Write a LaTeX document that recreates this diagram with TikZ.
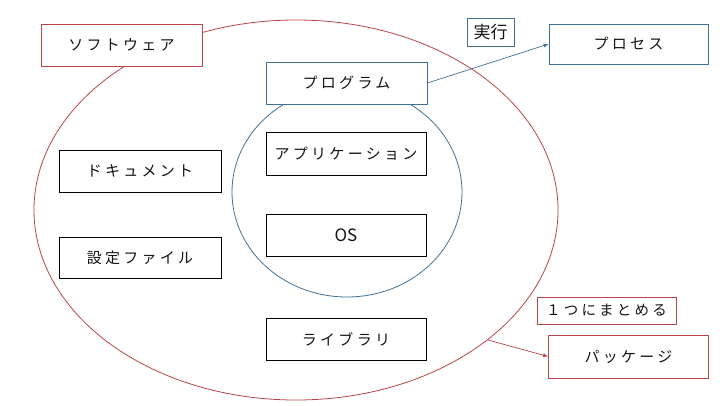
\documentclass[tikz,border=0pt]{standalone}
\usepackage{fontspec}
\usetikzlibrary{arrows.meta}
\newfontfamily\jp[LetterSpace=22]{Noto Sans CJK JP}
\newfontfamily\jpn{Noto Sans CJK JP}
\definecolor{cred}{RGB}{185,70,70}
\definecolor{cblue}{RGB}{65,113,150}
\definecolor{ctext}{RGB}{20,20,20}
\begin{document}
\begin{tikzpicture}[x=1pt,y=-1pt,
  box/.style={draw,fill=white,line width=0.8pt,inner sep=0pt,text=ctext,font=\jp\fontsize{15}{18}\selectfont},
  redbox/.style={box,draw=cred},
  bluebox/.style={box,draw=cblue},
  blackbox/.style={box,draw=black},
  conn/.style={line width=0.7pt,-{Latex[length=5pt,width=4pt]}}]
\useasboundingbox (0,0) rectangle (720,405);
\fill[white] (0,0) rectangle (720,405);
% outer ellipse and inner circle
\draw[cred,line width=0.8pt] (296,210) ellipse [x radius=262,y radius=190];
\draw[cblue,line width=0.8pt] (347,192) ellipse [x radius=115,y radius=105];
% nodes
\node[redbox,minimum width=161pt,minimum height=42pt] (soft) at (121.5,45) {ソフトウェア};
\node[bluebox,minimum width=47pt,minimum height=28pt,font=\jpn\fontsize{17}{20}\selectfont] (jikko) at (490.5,32) {実行};
\node[bluebox,minimum width=159pt,minimum height=40pt] (proc) at (628.5,44) {プロセス};
\node[bluebox,minimum width=161pt,minimum height=42pt] (prog) at (346.5,83) {プログラム};
\node[blackbox,minimum width=160pt,minimum height=43pt] (app) at (346,153.5) {アプリケーション};
\node[blackbox,minimum width=160pt,minimum height=42pt,font=\jpn\fontsize{17}{20}\selectfont] (os) at (346,235) {OS};
\node[blackbox,minimum width=160pt,minimum height=42pt] (lib) at (346,339) {ライブラリ};
\node[blackbox,minimum width=162pt,minimum height=42pt] (doc) at (140,171) {ドキュメント};
\node[blackbox,minimum width=162pt,minimum height=41pt] (conf) at (140,257.5) {設定ファイル};
\node[redbox,minimum width=139pt,minimum height=27pt,font=\jp\fontsize{14.5}{17}\selectfont] (matome) at (606.5,310.5) {１つにまとめる};
\node[redbox,minimum width=160pt,minimum height=43pt] (pkg) at (628.5,356.5) {パッケージ};
% connectors
\coordinate (pkgstart) at (488,340);
\draw[conn,cblue] (prog.east) -- (proc.west);
\draw[conn,cred] (pkgstart) -- (pkg.west);
\end{tikzpicture}
\end{document}
